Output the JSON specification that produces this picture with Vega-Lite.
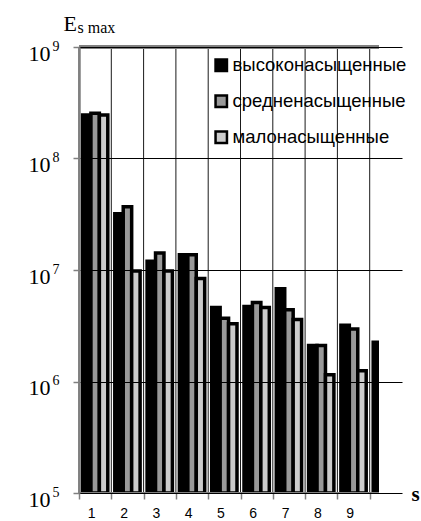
{
  "$schema": "https://vega.github.io/schema/vega-lite/v6.json",
  "width": 300,
  "height": 446,
  "autosize": "none",
  "padding": {"left": 79, "top": 47, "right": 42, "bottom": 28},
  "background": "white",
  "view": {"stroke": null},
  "data": {
    "values": [
      {"s": "1", "series": "высоконасыщенные", "E": 245000000},
      {"s": "1", "series": "средненасыщенные", "E": 255000000},
      {"s": "1", "series": "малонасыщенные", "E": 245000000},
      {"s": "2", "series": "высоконасыщенные", "E": 32000000},
      {"s": "2", "series": "средненасыщенные", "E": 37000000},
      {"s": "2", "series": "малонасыщенные", "E": 9800000},
      {"s": "3", "series": "высоконасыщенные", "E": 12000000},
      {"s": "3", "series": "средненасыщенные", "E": 14200000},
      {"s": "3", "series": "малонасыщенные", "E": 9800000},
      {"s": "4", "series": "высоконасыщенные", "E": 13700000},
      {"s": "4", "series": "средненасыщенные", "E": 13700000},
      {"s": "4", "series": "малонасыщенные", "E": 8400000},
      {"s": "5", "series": "высоконасыщенные", "E": 4600000},
      {"s": "5", "series": "средненасыщенные", "E": 3700000},
      {"s": "5", "series": "малонасыщенные", "E": 3300000},
      {"s": "6", "series": "высоконасыщенные", "E": 4700000},
      {"s": "6", "series": "средненасыщенные", "E": 5100000},
      {"s": "6", "series": "малонасыщенные", "E": 4600000},
      {"s": "7", "series": "высоконасыщенные", "E": 6800000},
      {"s": "7", "series": "средненасыщенные", "E": 4400000},
      {"s": "7", "series": "малонасыщенные", "E": 3600000},
      {"s": "8", "series": "высоконасыщенные", "E": 2100000},
      {"s": "8", "series": "средненасыщенные", "E": 2100000},
      {"s": "8", "series": "малонасыщенные", "E": 1150000},
      {"s": "9", "series": "высоконасыщенные", "E": 3200000},
      {"s": "9", "series": "средненасыщенные", "E": 2950000},
      {"s": "9", "series": "малонасыщенные", "E": 1250000},
      {"s": "10", "series": "высоконасыщенные", "E": 2250000}
    ]
  },
  "layer": [
    {
      "transform": [{"filter": "datum.series === 'высоконасыщенные'"}],
      "mark": {"type": "rule", "color": "#1a1a1a", "strokeWidth": 1},
      "encoding": {
        "x": {"field": "s", "type": "ordinal", "bandPosition": 0}
      }
    },
    {
      "mark": {"type": "bar", "stroke": "black", "strokeWidth": 3.5, "clip": true, "cornerRadius": 0},
      "encoding": {
        "x": {
          "field": "s",
          "type": "ordinal",
          "sort": null,
          "scale": {
            "domain": ["1", "2", "3", "4", "5", "6", "7", "8", "9", "10"],
            "range": [0, 323],
            "paddingInner": 0,
            "paddingOuter": 0
          },
          "axis": {
            "values": ["1", "2", "3", "4", "5", "6", "7", "8", "9"],
            "tickBand": "extent",
            "domain": false,
            "grid": false,
            "ticks": true,
            "tickColor": "#808080",
            "tickWidth": 1.5,
            "tickSize": 6,
            "labelAngle": 0,
            "labelFont": "Liberation Sans",
            "labelFontSize": 14,
            "labelColor": "black",
            "labelPadding": 7,
            "labelBaseline": "top",
            "title": "s",
            "titleFont": "Liberation Serif",
            "titleFontWeight": "bold",
            "titleFontSize": 21,
            "titleColor": "black",
            "titleX": 336,
            "titleY": 7,
            "titleAlign": "center",
            "titleBaseline": "alphabetic"
          }
        },
        "xOffset": {
          "field": "series",
          "type": "nominal",
          "sort": ["высоконасыщенные", "средненасыщенные", "малонасыщенные"],
          "scale": {
            "domain": ["высоконасыщенные", "средненасыщенные", "малонасыщенные"],
            "paddingInner": 0,
            "paddingOuter": 0.415
          }
        },
        "y": {
          "field": "E",
          "type": "quantitative",
          "stack": null,
          "scale": {"type": "log", "domain": [100000, 1000000000]},
          "axis": {
            "orient": "left",
            "values": [100000, 1000000, 10000000, 100000000, 1000000000],
            "labelExpr": "'10'",
            "labelFont": "Liberation Serif",
            "labelFontSize": 22,
            "labelColor": "black",
            "labelPadding": 23,
            "labelBaseline": "alphabetic",
            "labelOffset": 13,
            "labelAlign": "right",
            "domain": true,
            "domainColor": "#808080",
            "domainWidth": 2.5,
            "ticks": true,
            "tickColor": "#808080",
            "tickWidth": 1.5,
            "tickSize": 6,
            "grid": true,
            "gridColor": "black",
            "gridWidth": 1,
            "zindex": 1,
            "title": "E",
            "titleFont": "Liberation Serif",
            "titleFontSize": 22,
            "titleFontWeight": "normal",
            "titleColor": "black",
            "titleAngle": 0,
            "titleX": -16,
            "titleY": -17,
            "titleAlign": "left",
            "titleBaseline": "alphabetic"
          }
        },
        "color": {
          "field": "series",
          "type": "nominal",
          "scale": {
            "domain": ["высоконасыщенные", "средненасыщенные", "малонасыщенные"],
            "range": ["#000000", "#999999", "#cccccc"]
          },
          "legend": {
            "orient": "none",
            "legendX": 133,
            "legendY": 9,
            "title": null,
            "padding": 0,
            "symbolType": "square",
            "symbolSize": 130,
            "symbolStrokeColor": "black",
            "symbolStrokeWidth": 2.5,
            "symbolOpacity": 1,
            "labelFont": "Liberation Sans",
            "labelFontSize": 18.5,
            "labelColor": "black",
            "labelOffset": 2,
            "labelLimit": 400,
            "rowPadding": 14
          }
        }
      }
    },
    {
      "mark": {"type": "rule", "color": "#808080", "strokeWidth": 3},
      "encoding": {
        "y": {
          "datum": 1000000000,
          "type": "quantitative",
          "scale": {"type": "log", "domain": [100000, 1000000000]},
          "axis": {
            "orient": "left",
            "values": [100000, 1000000, 10000000, 100000000, 1000000000],
            "labelExpr": "format(log(datum.value) / LN10, '.0f')",
            "labelFont": "Liberation Serif",
            "labelFontSize": 14,
            "labelColor": "black",
            "labelPadding": 20,
            "labelBaseline": "alphabetic",
            "labelOffset": 3,
            "labelAlign": "right",
            "domain": false,
            "ticks": false,
            "tickSize": 0,
            "grid": false,
            "title": "s max",
            "titleFont": "Liberation Serif",
            "titleFontSize": 16,
            "titleFontWeight": "normal",
            "titleColor": "black",
            "titleAngle": 0,
            "titleX": -2,
            "titleY": -15,
            "titleAlign": "left",
            "titleBaseline": "alphabetic"
          }
        }
      }
    },
    {
      "mark": {"type": "rule", "color": "#808080", "strokeWidth": 2},
      "encoding": {
        "y": {"datum": 100000, "type": "quantitative", "axis": null}
      }
    }
  ],
  "resolve": {"axis": {"y": "independent"}}
}
